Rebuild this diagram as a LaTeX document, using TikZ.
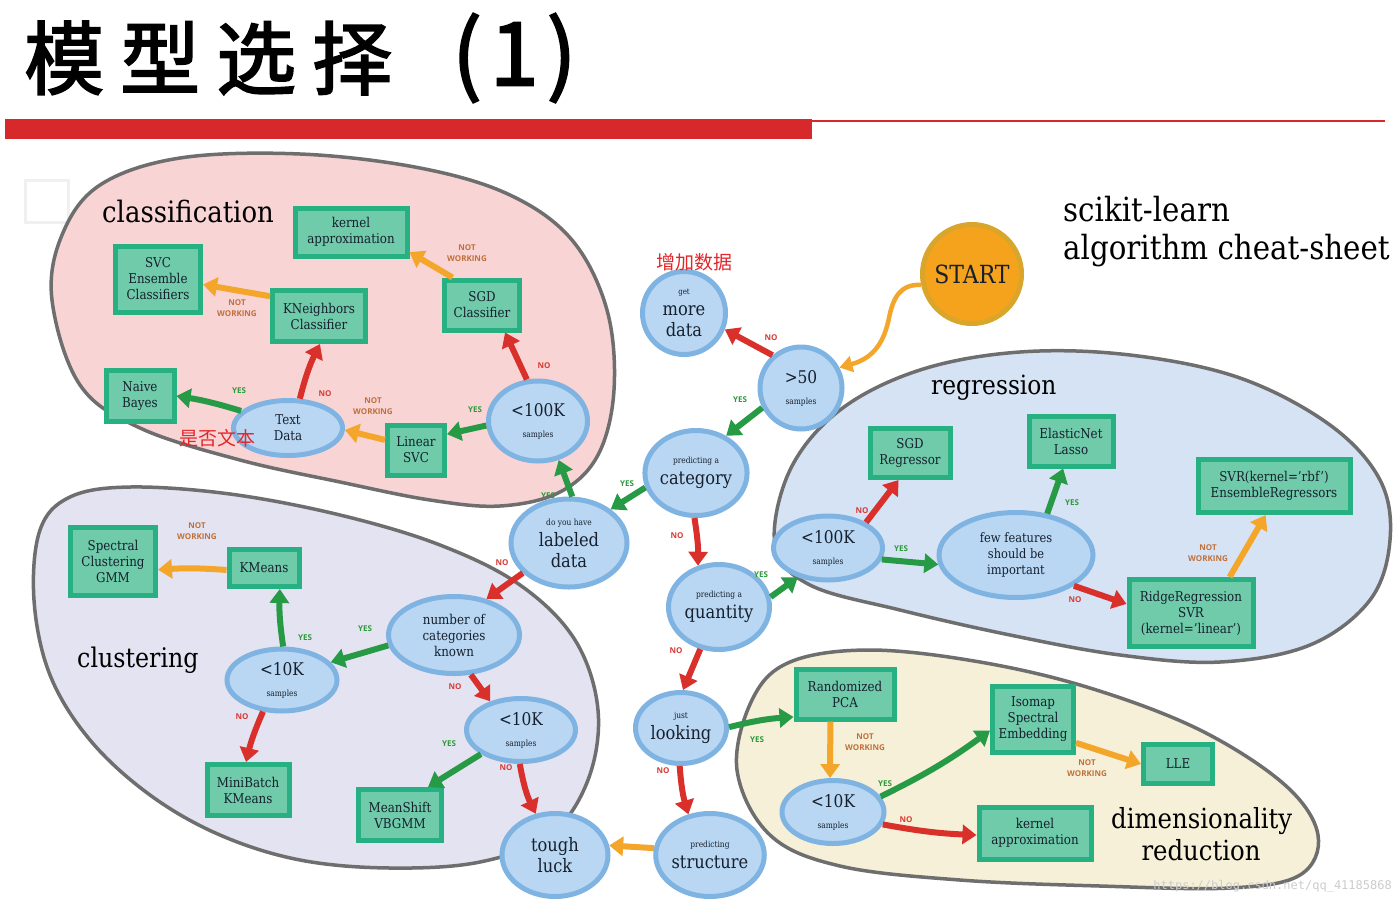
\documentclass[tikz,border=0pt]{standalone}
\usepackage{fontspec}
\setmainfont{DejaVu Serif}[FakeStretch=0.88]
\newfontfamily\lblfont{Open Sans}
\newfontfamily\cjk{Noto Sans CJK SC}
\newfontfamily\cjktitle{Noto Sans CJK SC}[FakeBold=2.2]
\newfontfamily\wmfont{DejaVu Sans Mono}
\usetikzlibrary{shapes.geometric,arrows.meta}
\definecolor{qfill}{HTML}{B9D7F2}
\definecolor{qborder}{HTML}{7FB3E2}
\definecolor{bfill}{HTML}{6FCBA9}
\definecolor{bborder}{HTML}{27B081}
\definecolor{txt}{HTML}{16202E}
\definecolor{agreen}{HTML}{279A45}
\definecolor{ared}{HTML}{D9302C}
\definecolor{aorange}{HTML}{F4A62A}
\definecolor{lgreen}{HTML}{2E9A3C}
\definecolor{lred}{HTML}{D83A34}
\definecolor{lorange}{HTML}{C07038}
\definecolor{pinkf}{HTML}{F8D4D5}
\definecolor{lavf}{HTML}{E4E3F1}
\definecolor{bluef}{HTML}{D6E3F5}
\definecolor{creamf}{HTML}{F6F0D8}
\definecolor{blobline}{HTML}{6E6E6E}
\definecolor{startf}{HTML}{F5A31C}
\definecolor{startb}{HTML}{D9A62B}
\definecolor{titlered}{HTML}{D7282B}
\definecolor{annred}{HTML}{E3262A}
\begin{document}
\begin{tikzpicture}[x=1pt,y=-1pt,
  qnode/.style={ellipse, draw=qborder, line width=5pt, fill=qfill, inner sep=0pt, align=center, text=txt, font=\fontsize{18.5}{21}\selectfont},
  startnode/.style={circle, draw=startb, line width=5pt, fill=startf, inner sep=0pt, text=txt, font=\fontsize{25}{25}\selectfont},
  abox/.style={rectangle, draw=bborder, line width=5pt, fill=bfill, inner sep=0pt, align=center, text=txt, font=\fontsize{13.5}{16}\selectfont},
  blob/.style={draw=blobline, line width=3.5pt},
  arr/.style={line width=6pt, -{Triangle[length=14pt,width=19pt]}},
  ga/.style={arr, draw=agreen},
  ra/.style={arr, draw=ared},
  oa/.style={arr, draw=aorange},
  lbl/.style={font=\lblfont\bfseries\fontsize{8}{10.5}\selectfont, align=center, inner sep=0pt},
  yes/.style={lbl, text=lgreen},
  nol/.style={lbl, text=lred},
  nw/.style={lbl, text=lorange},
  sec/.style={font=\fontsize{27}{32}\selectfont, text=black, inner sep=0pt, anchor=base west},
  ann/.style={font=\cjk\fontsize{19}{19}\selectfont, text=annred, inner sep=0pt}
]
\useasboundingbox (0,0) rectangle (1400,903);
\fill[white] (0,0) rectangle (1400,903);

% title
\node[anchor=west, inner sep=0pt] (title) at (24,58) {\cjktitle\fontsize{80}{80}\selectfont 模\hspace{16pt}型\hspace{16pt}选\hspace{16pt}择};
\node[anchor=west, inner sep=0pt] (title2) at (452,58) {\cjktitle\fontsize{88}{88}\selectfont (\hspace{8pt}1\hspace{8pt})};
\fill[titlered] (5,119) rectangle (812,139);
\draw[titlered, line width=2pt] (812,121) -- (1385,121);
\draw[gray!12, line width=3pt] (25,180) rectangle (68,222);

% blobs
\filldraw[blob, fill=pinkf] plot[smooth cycle, tension=0.6] coordinates {(52,300) (62,235) (100,185) (180,158) (300,154) (420,168) (510,195) (572,240) (607,310) (614,390) (598,455) (560,492) (500,506) (430,500) (340,482) (240,460) (140,428) (80,385)};
\filldraw[blob, fill=lavf] plot[smooth cycle, tension=0.6] coordinates {(34,600) (40,530) (70,497) (130,487) (230,494) (340,515) (440,545) (520,585) (575,640) (598,710) (588,780) (550,835) (480,862) (390,868) (300,860) (220,835) (150,795) (90,740) (50,675)};
\filldraw[blob, fill=bluef] plot[smooth cycle, tension=0.6] coordinates {(775,545) (790,470) (840,410) (920,370) (1020,352) (1130,355) (1240,378) (1330,425) (1380,480) (1390,540) (1370,600) (1310,645) (1220,662) (1120,655) (1010,635) (900,610) (810,585)};
\filldraw[blob, fill=creamf] plot[smooth cycle, tension=0.6] coordinates {(737,770) (752,700) (790,662) (870,650) (980,662) (1090,688) (1200,730) (1285,785) (1318,835) (1300,875) (1230,888) (1100,886) (960,880) (840,866) (770,835)};

% section labels
\node[sec, font=\fontsize{29.5}{32}\selectfont] (lcls) at (102,222) {classification};
\node[sec, font=\fontsize{26.5}{32}\selectfont] (lreg) at (931,394) {regression};
\node[sec] (lclu) at (77,667) {clustering};
\node[sec, font=\fontsize{27.7}{32}\selectfont] (ldim) at (1111,828) {dimensionality};
\node[sec, font=\fontsize{27.7}{32}\selectfont, anchor=base] (ldim2) at (1201,860) {reduction};
\node[font=\fontsize{33.3}{38}\selectfont, anchor=base west, inner sep=0pt] (sk1) at (1063,221) {scikit-learn};
\node[font=\fontsize{33.3}{38}\selectfont, anchor=base west, inner sep=0pt] (sk2) at (1063,259) {algorithm cheat-sheet};

% decision nodes
\node[startnode, minimum size=99pt] (start) at (972,274) {START};
\node[qnode, circle, minimum size=83pt] (more) at (684,313) {{\fontsize{8}{8}\selectfont get}\\more\\data};
\node[qnode, circle, minimum size=82pt] (g50) at (801,388) {{\fontsize{17.5}{17}\selectfont >50}\\{\fontsize{8.5}{9}\selectfont samples}};
\node[qnode, minimum width=99pt, minimum height=85pt] (cat) at (696,473) {{\fontsize{8.5}{9}\selectfont predicting a}\\category};
\node[qnode, minimum width=116pt, minimum height=88pt] (lab) at (569,543) {{\fontsize{8.5}{9}\selectfont do you have}\\labeled\\data};
\node[qnode, minimum width=99pt, minimum height=80pt] (c100) at (538,421) {{\fontsize{17.5}{17}\selectfont <100K}\\{\fontsize{8.5}{9}\selectfont samples}};
\node[qnode, minimum width=109pt, minimum height=55pt, font=\fontsize{13.5}{16}\selectfont] (text) at (288,428) {Text\\Data};
\node[qnode, minimum width=101pt, minimum height=85pt] (quant) at (719,607) {{\fontsize{8.5}{9}\selectfont predicting a}\\quantity};
\node[qnode, minimum width=109pt, minimum height=64pt] (r100) at (828,548) {{\fontsize{17.5}{17}\selectfont <100K}\\{\fontsize{8.5}{9}\selectfont samples}};
\node[qnode, minimum width=154pt, minimum height=85pt, font=\fontsize{13}{16}\selectfont] (few) at (1016,555) {few features\\should be\\important};
\node[qnode, minimum width=131pt, minimum height=77pt, font=\fontsize{13.5}{16}\selectfont] (ncat) at (454,635) {number of\\categories\\known};
\node[qnode, minimum width=110pt, minimum height=62pt] (k10a) at (282,680) {{\fontsize{17.5}{17}\selectfont <10K}\\{\fontsize{8.5}{9}\selectfont samples}};
\node[qnode, minimum width=109pt, minimum height=63pt] (k10b) at (521,730) {{\fontsize{17.5}{17}\selectfont <10K}\\{\fontsize{8.5}{9}\selectfont samples}};
\node[qnode, minimum width=91pt, minimum height=71pt] (look) at (681,728) {{\fontsize{8.5}{9}\selectfont just}\\looking};
\node[qnode, minimum width=106pt, minimum height=83pt] (tough) at (555,855) {tough\\luck};
\node[qnode, minimum width=103pt, minimum height=83pt] (struct) at (710,855) {{\fontsize{8.5}{9}\selectfont predicting}\\structure};
\node[qnode, minimum width=102pt, minimum height=63pt] (k10d) at (833,812) {{\fontsize{17.5}{17}\selectfont <10K}\\{\fontsize{8.5}{9}\selectfont samples}};

% estimator boxes
\node[abox, minimum width=112pt, minimum height=48pt] (ka1) at (351,232) {kernel\\approximation};
\node[abox, minimum width=85pt, minimum height=66pt] (svc) at (158,279) {SVC\\Ensemble\\Classifiers};
\node[abox, minimum width=93pt, minimum height=51pt] (knn) at (319,316) {KNeighbors\\Classifier};
\node[abox, minimum width=75pt, minimum height=50pt] (sgdc) at (482,305) {SGD\\Classifier};
\node[abox, minimum width=68pt, minimum height=51pt] (nb) at (140,396) {Naive\\Bayes};
\node[abox, minimum width=57pt, minimum height=50pt] (lsvc) at (416,450) {Linear\\SVC};
\node[abox, minimum width=80pt, minimum height=49pt] (sgdr) at (910,453) {SGD\\Regressor};
\node[abox, minimum width=84pt, minimum height=50pt] (enet) at (1071,441) {ElasticNet\\Lasso};
\node[abox, minimum width=152pt, minimum height=53pt] (svrr) at (1274,486) {SVR(kernel='rbf')\\EnsembleRegressors};
\node[abox, minimum width=124pt, minimum height=67pt] (ridge) at (1191,613) {RidgeRegression\\SVR\\(kernel='linear')};
\node[abox, minimum width=85pt, minimum height=68pt] (spec) at (113,561) {Spectral\\Clustering\\GMM};
\node[abox, minimum width=70pt, minimum height=37pt] (km) at (264,568) {KMeans};
\node[abox, minimum width=82pt, minimum height=51pt] (mbk) at (248,790) {MiniBatch\\KMeans};
\node[abox, minimum width=83pt, minimum height=51pt] (ms) at (400,815) {MeanShift\\VBGMM};
\node[abox, minimum width=98pt, minimum height=50pt] (rpca) at (845,694) {Randomized\\PCA};
\node[abox, minimum width=81pt, minimum height=66pt] (iso) at (1033,719) {Isomap\\Spectral\\Embedding};
\node[abox, minimum width=69pt, minimum height=39pt] (lle) at (1178,764) {LLE};
\node[abox, minimum width=112pt, minimum height=52pt] (ka2) at (1035,833) {kernel\\approximation};

% connectors
\draw[draw=aorange, line width=4.5pt, -{Triangle[length=13pt,width=16pt]}] (start.192) .. controls (900,284) and (893,298) .. (889,318) .. controls (884,342) and (874,358) .. (g50.28);
\draw[ra] (g50.131) -- (more.338);
\draw[ga] (g50.207) -- (cat.51);
\draw[ga] (cat.196) -- (lab.39);
\draw[ga] (lab.86) -- (c100.298);
\draw[ra] (c100.105) -- (sgdc.310);
\draw[ga] (c100.185) -- (lsvc.27);
\draw[oa] (sgdc.137) -- (ka1.341);
\draw[oa] (lsvc.162) -- (text.358);
\draw[ra] (text.68) to[bend left=6] (knn.272);
\draw[ga] (text.160) to[bend right=4] (nb.0);
\draw[oa] (knn.158) -- (svc.353);
\draw[ra] (lab.213) -- (ncat.48);
\draw[ra] (cat.268) to[bend left=5] (quant.117);
\draw[ga] (quant.11) -- (r100.224);
\draw[ra] (r100.34) -- (sgdr.247);
\draw[ga] (r100.348) -- (few.187);
\draw[ga] (few.53) -- (enet.254);
\draw[ra] (few.332) -- (ridge.172);
\draw[oa] (ridge.43) -- (svrr.254);
\draw[ra] (quant.246) -- (look.87);
\draw[ga] (look.1) to[bend left=5] (rpca.204);
\draw[ra] (look.268) to[bend right=6] (struct.118);
\draw[oa] (struct.173) -- (tough.10);
\draw[ga] (ncat.189) -- (k10a.20);
\draw[ra] (ncat.293) -- (k10b.137);
\draw[ga] (k10a.88) to[bend left=5] (km.307);
\draw[oa] (km.183) to[bend right=4] (spec.349);
\draw[ra] (k10a.239) to[bend right=5] (mbk.94);
\draw[ga] (k10b.211) -- (ms.45);
\draw[ra] (k10b.268) to[bend right=8] (tough.115);
\draw[oa] (rpca.242) -- (k10d.95);
\draw[ga] (k10d.18) to[bend right=5] (iso.195);
\draw[oa] (iso.331) -- (lle.180);
\draw[ra] (k10d.346) to[bend right=4] (ka2.182);

% connector labels
\node[nol] (e1) at (771,338) {NO};
\node[yes] (e2) at (740,400) {YES};
\node[yes] (e3) at (627,484) {YES};
\node[yes] (e4) at (548,496) {YES};
\node[nol] (e5) at (544,366) {NO};
\node[yes] (e6) at (475,410) {YES};
\node[nw] (e7) at (467,253) {NOT\\WORKING};
\node[nw] (e8) at (373,406) {NOT\\WORKING};
\node[nol] (e9) at (325,394) {NO};
\node[yes] (e10) at (239,391) {YES};
\node[nw] (e11) at (237,308) {NOT\\WORKING};
\node[nol] (e12) at (502,563) {NO};
\node[nol] (e13) at (677,536) {NO};
\node[yes] (e14) at (761,575) {YES};
\node[nol] (e15) at (862,511) {NO};
\node[yes] (e16) at (901,549) {YES};
\node[yes] (e17) at (1072,503) {YES};
\node[nol] (e18) at (1075,600) {NO};
\node[nw] (e19) at (1208,553) {NOT\\WORKING};
\node[nol] (e20) at (676,651) {NO};
\node[yes] (e21) at (757,740) {YES};
\node[nol] (e22) at (663,771) {NO};
\node[yes] (e23) at (365,629) {YES};
\node[nol] (e24) at (455,687) {NO};
\node[yes] (e25) at (305,638) {YES};
\node[nw] (e26) at (197,531) {NOT\\WORKING};
\node[nol] (e27) at (242,717) {NO};
\node[yes] (e28) at (449,744) {YES};
\node[nol] (e29) at (506,768) {NO};
\node[nw] (e30) at (865,742) {NOT\\WORKING};
\node[yes] (e31) at (885,784) {YES};
\node[nw] (e32) at (1087,768) {NOT\\WORKING};
\node[nol] (e33) at (906,820) {NO};

% annotations
\node[ann] (a1) at (694,262) {增加数据};
\node[ann] (a2) at (217,438) {是否文本};
\node[text=gray!40, font=\wmfont\fontsize{12}{12}\selectfont, anchor=east, inner sep=0pt] (wm) at (1392,886) {https://blog.csdn.net/qq\_41185868};
\end{tikzpicture}
\end{document}
